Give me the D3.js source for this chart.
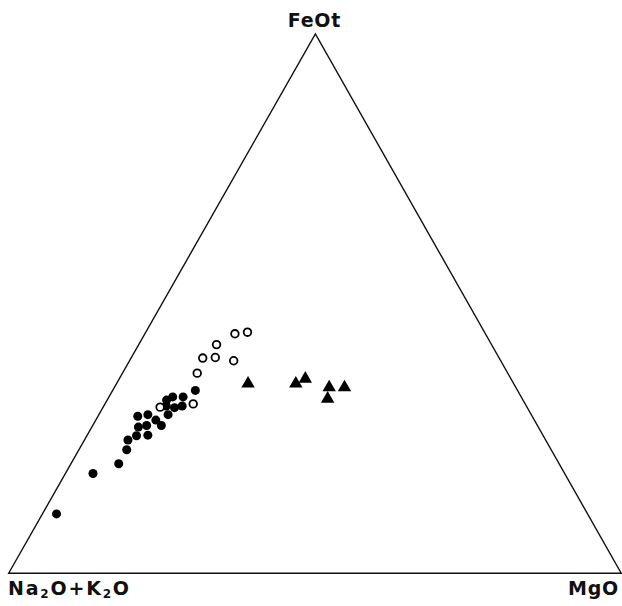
<!DOCTYPE html>
<html>
<head>
<meta charset="utf-8">
<script src="https://cdn.jsdelivr.net/npm/d3@7"></script>
<style>
  body { margin: 0; background: #fff; }
  svg { display: block; }
  .label { font-family: "DejaVu Sans", sans-serif; font-weight: bold; fill: #111; }
</style>
</head>
<body>
<div id="chart"></div>
<script>
// compositions in % : [FeOt, MgO] (Na2O+K2O = 100 - FeOt - MgO)
const filledCircles = [
  [11.0, 2.3], [18.5, 4.5], [20.3, 7.8], [22.9, 7.8], [24.7, 7.1],
  [25.5, 8.1], [25.6, 9.9], [27.1, 7.6], [27.4, 8.8], [29.1, 6.5],
  [29.4, 8.0], [28.4, 9.8], [27.4, 11.2], [29.4, 11.3], [31.0, 10.2],
  [32.7, 10.4], [32.1, 9.7], [30.7, 11.7], [31.0, 12.8], [32.7, 12.1],
  [33.9, 13.5]
];
const openCircles = [
  [30.8, 9.3], [31.4, 14.4], [37.1, 12.2], [39.9, 11.7], [40.0, 13.7],
  [42.4, 12.7], [39.4, 17.0], [44.4, 14.7], [44.7, 16.6]
];
const triangles = [
  [35.5, 21.3], [35.5, 29.1], [36.4, 30.2], [34.8, 34.9], [34.8, 37.4],
  [32.7, 35.7]
];
const apexLabels = ['Na2O+K2O', 'MgO', 'FeOt'];

const width = 622;
const height = 606;

// triangle corners in pixels
const cornerL = { x: 8.7, y: 573.2 };
const cornerR = { x: 621.2, y: 573.2 };
const cornerT = { x: 315.4, y: 34 };

const svg = d3.select('#chart').append('svg')
  .attr('width', width)
  .attr('height', height);

// ternary projection built from linear scales
const mgScale = d3.scaleLinear().domain([0, 100]).range([0, cornerR.x - cornerL.x]);
const feXScale = d3.scaleLinear().domain([0, 100]).range([0, cornerT.x - cornerL.x]);
const feYScale = d3.scaleLinear().domain([0, 100]).range([cornerL.y, cornerT.y]);

function px(d) { return cornerL.x + mgScale(d[1]) + feXScale(d[0]); }
function py(d) { return feYScale(d[0]); }

// frame
const corners = [[0, 0], [0, 100], [100, 0]];
svg.append('path')
  .attr('d', d3.line().x(px).y(py)(corners) + 'Z')
  .attr('fill', 'none')
  .attr('stroke', '#111')
  .attr('stroke-width', 1.4)
  .attr('stroke-linejoin', 'miter');

// points
svg.append('g').selectAll('circle')
  .data(filledCircles)
  .join('circle')
  .attr('cx', px)
  .attr('cy', py)
  .attr('r', 4.5)
  .attr('fill', '#000');

svg.append('g').selectAll('circle')
  .data(openCircles)
  .join('circle')
  .attr('cx', px)
  .attr('cy', py)
  .attr('r', 3.8)
  .attr('fill', '#fff')
  .attr('stroke', '#000')
  .attr('stroke-width', 1.8);

// symbolTriangle is centred on its centroid; nudge so the box centre sits on the point
const tri = d3.symbol().type(d3.symbolTriangle).size(78);
svg.append('g').selectAll('path')
  .data(triangles)
  .join('path')
  .attr('d', tri)
  .attr('transform', (d) => `translate(${px(d)},${py(d) + 1.9})`)
  .attr('fill', '#000');

// labels
svg.append('text')
  .attr('class', 'label')
  .attr('x', cornerT.x - 1)
  .attr('y', 27)
  .attr('text-anchor', 'middle')
  .attr('font-size', 19)
  .attr('letter-spacing', 0.8)
  .text(apexLabels[2]);

const alk = svg.append('text')
  .attr('class', 'label')
  .attr('x', 8)
  .attr('y', 595)
  .attr('font-size', 19)
  .attr('letter-spacing', 1.8);
alk.append('tspan').text('Na');
alk.append('tspan').attr('font-size', 12).attr('dy', 3).text('2');
alk.append('tspan').attr('dy', -3).text('O+K');
alk.append('tspan').attr('font-size', 12).attr('dy', 3).text('2');
alk.append('tspan').attr('dy', -3).text('O');

svg.append('text')
  .attr('class', 'label')
  .attr('x', 619)
  .attr('y', 595)
  .attr('text-anchor', 'end')
  .attr('font-size', 19)
  .attr('letter-spacing', 0.8)
  .text(apexLabels[1]);
</script>
</body>
</html>
